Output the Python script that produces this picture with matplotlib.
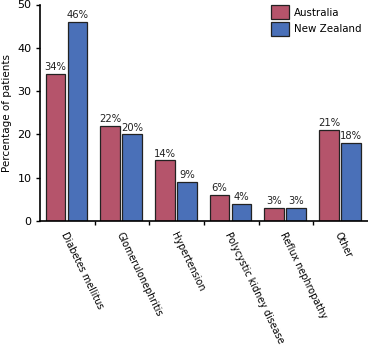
import matplotlib
matplotlib.use("Agg")
import matplotlib.pyplot as plt
import numpy as np

categories = ["Diabetes mellitus", "Glomerulonephritis", "Hypertension",
              "Polycystic kidney disease", "Reflux nephropathy", "Other"]
australia = [34, 22, 14, 6, 3, 21]
new_zealand = [46, 20, 9, 4, 3, 18]
series_names = ["Australia", "New Zealand"]
yticks = [0, 10, 20, 30, 40, 50]

c_au = "#b5546b"
c_nz = "#4a70b8"
edge = "#222222"

fig = plt.figure(figsize=(3.68, 3.49), dpi=100)
ax = fig.add_axes([40/368, 1-221/349, 1-40/368, 216.5/349])

x = np.arange(len(categories))
w = 0.36
b1 = ax.bar(x + 0.285, australia, w, color=c_au, edgecolor=edge, linewidth=0.9, label=series_names[0])
b2 = ax.bar(x + 0.685, new_zealand, w, color=c_nz, edgecolor=edge, linewidth=0.9, label=series_names[1])

for bars, vals in ((b1, australia), (b2, new_zealand)):
    for r, v in zip(bars, vals):
        ax.text(r.get_x() + r.get_width()/2, v + 0.4, f"{v}%", ha="center", va="bottom",
                fontsize=7.2, color="#222222")

ax.set_xlim(0, 6)
ax.set_ylim(0, 50)
ax.set_yticks(yticks)
ax.set_xticks(np.arange(1, 6))
ax.set_xticklabels([])
ax.tick_params(axis="y", direction="out", length=3, width=1, labelsize=8, pad=3)
ax.tick_params(axis="x", direction="out", length=3, width=1)
for s in ("top", "right"):
    ax.spines[s].set_visible(False)
for s in ("left", "bottom"):
    ax.spines[s].set_linewidth(1.2)
ax.set_ylabel("Percentage of patients", fontsize=7.5, labelpad=4)

for i, cat in enumerate(categories):
    ax.text(i + 0.52, -2.2, cat, rotation=-64, rotation_mode="anchor",
            ha="left", va="top", fontsize=6.9, transform=ax.transData, clip_on=False)

leg = ax.legend(loc="upper right", bbox_to_anchor=(1.0, 1.025), frameon=False, fontsize=7.4,
                handlelength=1.75, handleheight=1.75, handletextpad=0.5, labelspacing=0.2,
                borderaxespad=0.2)

fig.savefig("out.png", dpi=100)
